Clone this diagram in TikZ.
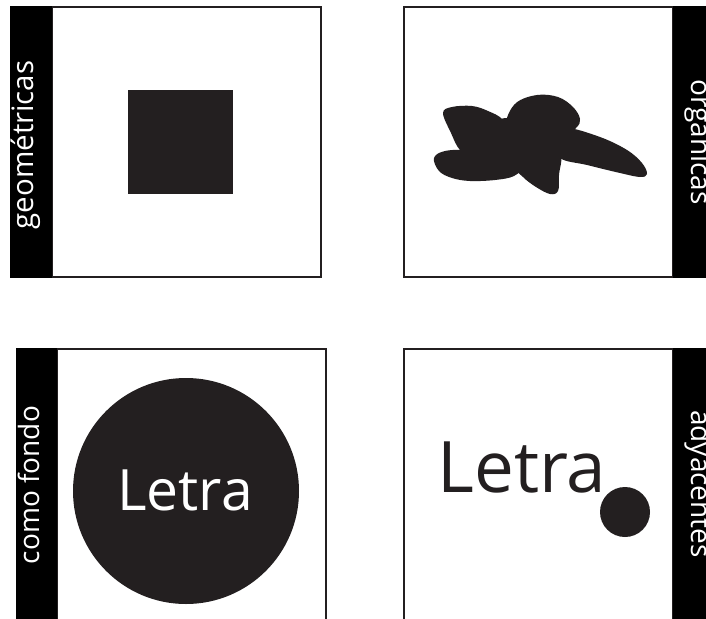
\documentclass[tikz,border=0pt]{standalone}
\usepackage{fontspec}
\setmainfont{Open Sans}
\definecolor{fg}{HTML}{231F20}
\begin{document}
\begin{tikzpicture}[x=1pt,y=-1pt,
  frame/.style={draw=fg, line width=2pt, fill=white},
  bar/.style={fill=black},
  sidelabel/.style={text=white, inner sep=0pt, anchor=base, font=\fontsize{28}{30}\selectfont},
  figfill/.style={fill=fg}]
\useasboundingbox (0,0) rectangle (706,618);
\clip (0,0) rectangle (706,618);
\fill[white] (0,0) rectangle (706,618);
% top-left
\draw[frame] (52,7) rectangle (321,277);
\fill[bar] (10,6) rectangle (52,278);
\node[sidelabel, rotate=90, font=\fontsize{29.5}{31}\selectfont] (geo) at (33,145) {geométricas};
\fill[figfill] (128,90) rectangle (233,194);
% top-right
\draw[frame] (404,7) rectangle (673,277);
\fill[bar] (673,6) rectangle (706,278);
\node[sidelabel, rotate=-90] (org) at (691,142) {orgánicas};
% organic blob as union of lobes
\fill[figfill] plot[smooth cycle, tension=0.6] coordinates {
 (443,113) (452,107) (472,106) (488,111) (503,120) (512,140) (500,158) (475,158) (460,150) (451,133) };
\fill[figfill] plot[smooth cycle, tension=0.6] coordinates {
 (506,122) (516,103) (537,95) (558,97) (573,107) (580,119) (576,128) (558,142) (530,146) (510,140) };
\fill[figfill] plot[smooth cycle, tension=0.6] coordinates {
 (566,128) (600,137) (627,150) (642,163) (647,174) (640,177) (620,173) (587,165) (560,158) (556,140) };
\fill[figfill] plot[smooth cycle, tension=0.6] coordinates {
 (518,168) (538,150) (560,154) (559,175) (558,191) (550,194) (536,187) (523,177) };
\fill[figfill] plot[smooth cycle, tension=0.6] coordinates {
 (434,158) (445,151) (470,150) (500,154) (521,166) (514,176) (495,180) (470,181) (452,178) (439,171) };
\fill[figfill] (470,125) -- (505,118) -- (565,122) -- (562,158) -- (520,168) -- (470,158) -- cycle;
% bottom-left
\draw[frame] (57,349) rectangle (326,640);
\fill[bar] (16,348) rectangle (57,640);
\node[sidelabel, rotate=90] (fondo) at (39,485) {como fondo};
\fill[figfill] (186,491) circle (113);
\node[text=white, inner sep=0pt, anchor=base, font=\fontsize{57}{60}\selectfont] (letra1) at (185,510) {Letra};
% bottom-right
\draw[frame] (404,349) rectangle (673,640);
\fill[bar] (673,348) rectangle (706,640);
\node[sidelabel, rotate=-90] (ady) at (691,484) {adyacentes};
\node[text=fg, inner sep=0pt, anchor=base, font=\fontsize{71}{74}\selectfont] (letra2) at (522,492) {Letra};
\fill[figfill] (625,512) circle (25);
\end{tikzpicture}
\end{document}
